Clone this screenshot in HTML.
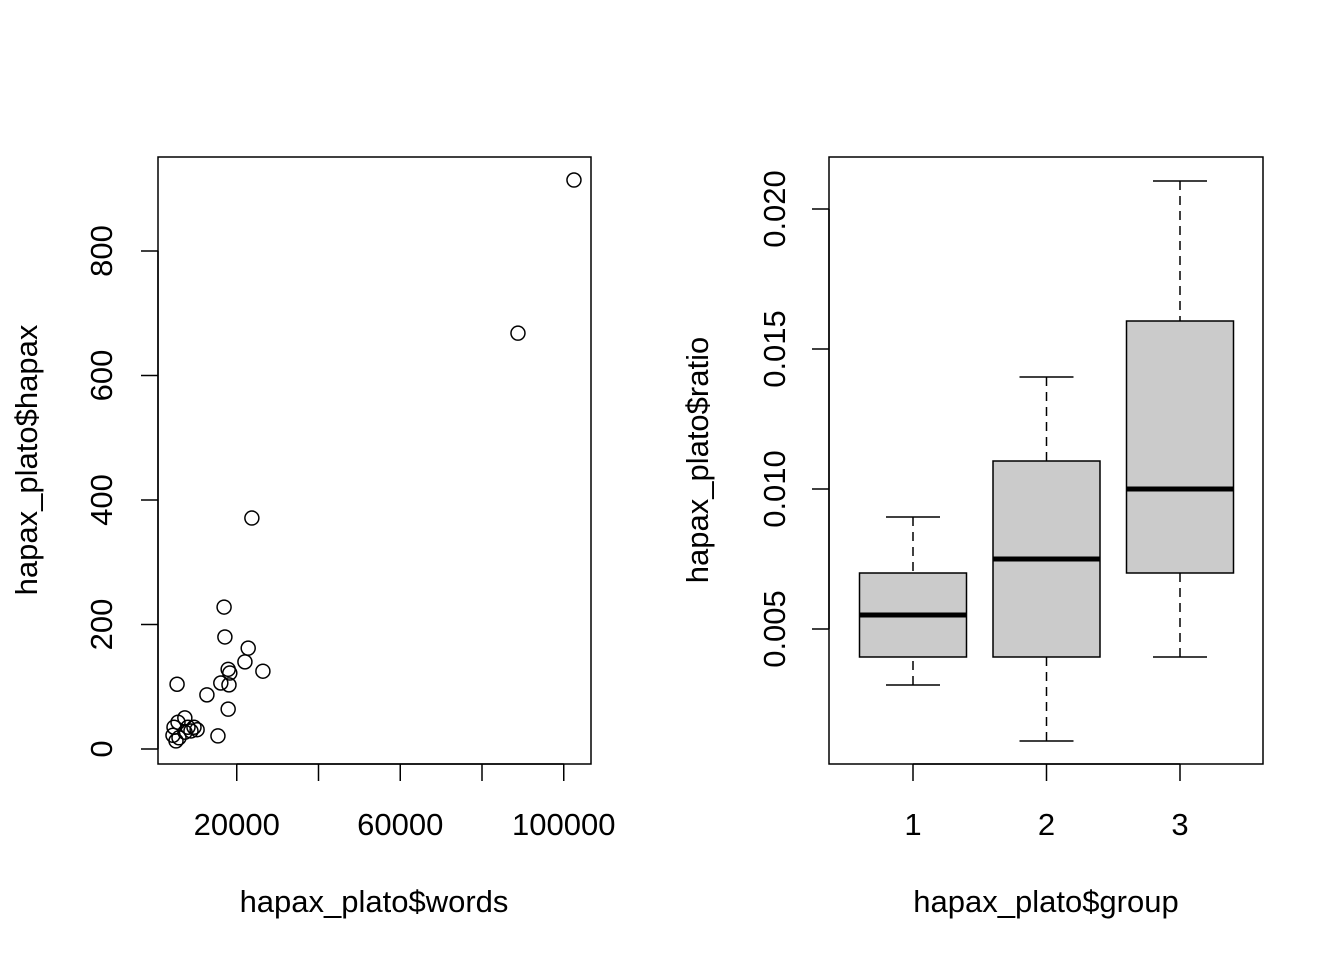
<!DOCTYPE html>
<html><head><meta charset="utf-8"><style>
html,body{margin:0;padding:0;background:#fff;}
svg text{font-family:"Liberation Sans",Arial,sans-serif;font-size:31px;fill:#000;}
</style></head><body>
<svg id="c" width="1344" height="960" xmlns="http://www.w3.org/2000/svg">
<rect x="0" y="0" width="1344" height="960" fill="#fff"/>
<g id="left"></g><g id="right"></g>
</svg>
<script>
const wordsData=[23700,16900,17100,22800,22000,26400,17900,18300,16100,18100,5400,12700,17900,15400,7300,4650,5630,4400,5140,5870,8070,8800,9540,7340,10300,88800,102500];
const hapaxData=[371,228,180,162,140,125,128,122,106,103,104,87,64,21,50,35,43,22,13,18,35,29,35,27,31,668,914];
const xTicks=[20000,40000,60000,80000,100000];
const xTickLabels=["20000","","60000","","100000"];
const yTicks=[0,200,400,600,800];
const groups=["1","2","3"];
const whiskLo=[0.003,0.001,0.004];
const boxLo=[0.004,0.004,0.007];
const medians=[0.0055,0.0075,0.010];
const boxHi=[0.007,0.011,0.016];
const whiskHi=[0.009,0.014,0.021];
const rTicks=[0.005,0.010,0.015,0.020];
const rTickLabels=["0.005","0.010","0.015","0.020"];

const NS="http://www.w3.org/2000/svg";
function mk(p,tag,a,txt){const e=document.createElementNS(NS,tag);for(const k in a)e.setAttribute(k,a[k]);if(txt!==undefined)e.textContent=txt;p.appendChild(e);return e;}
const L=document.getElementById('left'),R=document.getElementById('right');
const sx=v=>155+v*163.5/40000, sy=v=>749-v*0.6225;
let e=mk(L,'rect',{x:158,y:157,width:433,height:607,fill:'none',stroke:'#000','stroke-width':1.5});


mk(L,'line',{x1:sx(20000),x2:sx(100000),y1:764,y2:764,stroke:'#000','stroke-width':1.5});
xTicks.forEach((t,i)=>{mk(L,'line',{x1:sx(t),x2:sx(t),y1:764,y2:781,stroke:'#000','stroke-width':1.5});
 if(xTickLabels[i]){e=mk(L,'text',{x:sx(t),y:835,'text-anchor':'middle'},xTickLabels[i]);
 
 }});
mk(L,'line',{x1:158,x2:158,y1:sy(0),y2:sy(800),stroke:'#000','stroke-width':1.5});
yTicks.forEach(t=>{mk(L,'line',{x1:141,x2:158,y1:sy(t),y2:sy(t),stroke:'#000','stroke-width':1.5});
 e=mk(L,'text',{x:112,y:sy(t),'text-anchor':'middle',transform:`rotate(-90 112 ${sy(t)})`},String(t));
 
 });
wordsData.forEach((w,i)=>{e=mk(L,'circle',{cx:sx(w),cy:sy(hapaxData[i]),r:7,fill:'none',stroke:'#000','stroke-width':1.5});
 
 });
e=mk(L,'text',{x:374,y:912,'text-anchor':'middle'},'hapax_plato$words');


e=mk(L,'text',{x:37,y:460,'text-anchor':'middle',transform:'rotate(-90 37 460)'},'hapax_plato$hapax');



const gx=i=>913+i*133.5, ry=v=>629-(v-0.005)*28000;
e=mk(R,'rect',{x:829,y:157,width:434,height:607,fill:'none',stroke:'#000','stroke-width':1.5});


mk(R,'line',{x1:829,x2:829,y1:ry(0.005),y2:ry(0.020),stroke:'#000','stroke-width':1.5});
rTicks.forEach((t,i)=>{mk(R,'line',{x1:812,x2:829,y1:ry(t),y2:ry(t),stroke:'#000','stroke-width':1.5});
 e=mk(R,'text',{x:785,y:ry(t),'text-anchor':'middle',transform:`rotate(-90 785 ${ry(t)})`},rTickLabels[i]);
 
 });
mk(R,'line',{x1:gx(0),x2:gx(2),y1:764,y2:764,stroke:'#000','stroke-width':1.5});
groups.forEach((g,i)=>{const x=gx(i),hw=53.5;
 mk(R,'line',{x1:x,x2:x,y1:764,y2:781,stroke:'#000','stroke-width':1.5});
 e=mk(R,'text',{x:x,y:835,'text-anchor':'middle'},g);
 
 
 mk(R,'line',{x1:x,x2:x,y1:ry(whiskLo[i]),y2:ry(boxLo[i]),stroke:'#000','stroke-width':1.5,'stroke-dasharray':'9,6'});
 mk(R,'line',{x1:x,x2:x,y1:ry(whiskHi[i]),y2:ry(boxHi[i]),stroke:'#000','stroke-width':1.5,'stroke-dasharray':'9,6'});
 mk(R,'line',{x1:x-27,x2:x+27,y1:ry(whiskLo[i]),y2:ry(whiskLo[i]),stroke:'#000','stroke-width':1.5});
 mk(R,'line',{x1:x-27,x2:x+27,y1:ry(whiskHi[i]),y2:ry(whiskHi[i]),stroke:'#000','stroke-width':1.5});
 e=mk(R,'rect',{x:x-hw,y:ry(boxHi[i]),width:2*hw,height:ry(boxLo[i])-ry(boxHi[i]),fill:'#cbcbcb',stroke:'#000','stroke-width':1.5});
 
 
 mk(R,'line',{x1:x-hw,x2:x+hw,y1:ry(medians[i]),y2:ry(medians[i]),stroke:'#000','stroke-width':5});
});
e=mk(R,'text',{x:1046,y:912,'text-anchor':'middle'},'hapax_plato$group');


e=mk(R,'text',{x:708,y:460,'text-anchor':'middle',transform:'rotate(-90 708 460)'},'hapax_plato$ratio');


</script>
</body></html>
